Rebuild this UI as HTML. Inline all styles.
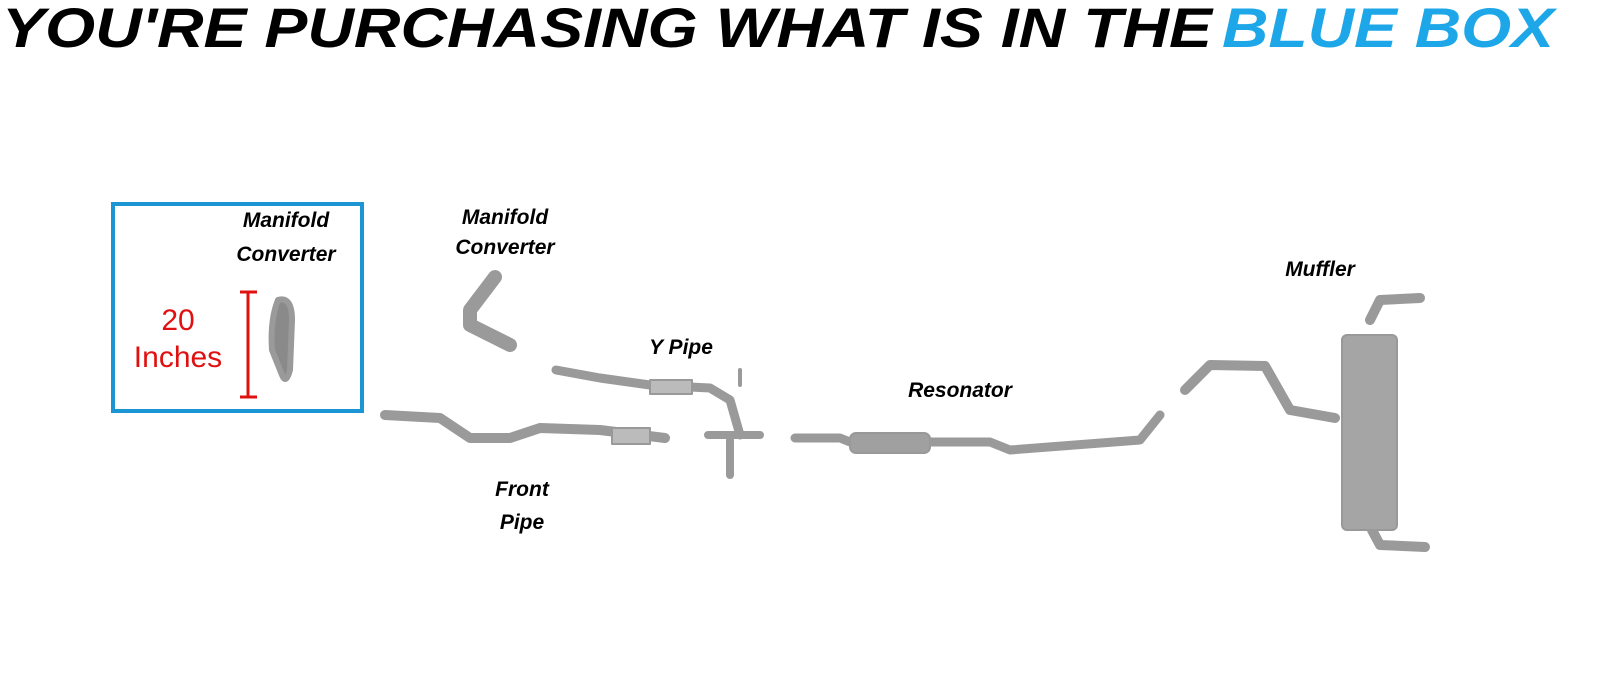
<!DOCTYPE html>
<html><head><meta charset="utf-8"><style>
html,body{margin:0;padding:0;background:#fff;width:1600px;height:685px;overflow:hidden}
svg{display:block}
</style></head><body>
<svg width="1600" height="685" viewBox="0 0 1600 685" xmlns="http://www.w3.org/2000/svg">
<text x="2" y="47" font-family="Liberation Sans, sans-serif" font-weight="bold" font-style="italic" font-size="56" fill="#000" textLength="1210" lengthAdjust="spacingAndGlyphs">YOU'RE PURCHASING WHAT IS IN THE</text>
<text x="1222" y="47" font-family="Liberation Sans, sans-serif" font-weight="bold" font-style="italic" font-size="56" fill="#1ea7e8" textLength="332" lengthAdjust="spacingAndGlyphs">BLUE BOX</text>

<rect x="113" y="204" width="249" height="207" fill="none" stroke="#1b95d3" stroke-width="4"/>
<g font-family="Liberation Sans, sans-serif" font-weight="bold" font-style="italic" font-size="21" fill="#000" text-anchor="middle">
<text x="286" y="227">Manifold</text><text x="286" y="261">Converter</text>
<text x="505" y="224">Manifold</text><text x="505" y="254">Converter</text>
<text x="681" y="354">Y Pipe</text>
<text x="960" y="397">Resonator</text>
<text x="1320" y="276">Muffler</text>
<text x="522" y="496">Front</text><text x="522" y="529">Pipe</text>
</g>
<g font-family="Liberation Sans, sans-serif" font-size="30" fill="#e01010" text-anchor="middle">
<text x="178" y="330">20</text><text x="178" y="367">Inches</text>
</g>
<g stroke="#e01010" stroke-width="3"><line x1="248" y1="292" x2="248" y2="397"/><line x1="240" y1="292" x2="257" y2="292"/><line x1="240" y1="397" x2="257" y2="397"/></g>

<g fill="none" stroke="#9a9a9a" stroke-linecap="round" stroke-linejoin="round">
<!-- box converter -->
<path d="M278 300 Q292 296 292 320 L290 370 Q286 385 282 375 L272 350 Q270 320 278 300Z" fill="#8a8a8a" stroke-width="6"/>
<!-- manifold converter 2 -->
<path d="M495 277 L470 310 L470 325 L510 345" stroke-width="14"/>
<!-- Y pipe -->
<path d="M556 370 L600 378 L650 385 L710 388 L730 400 L740 435" stroke-width="9"/>
<rect x="650" y="380" width="42" height="14" fill="#bbb" stroke="#999" stroke-width="2"/>
<path d="M740 385 L740 370" stroke-width="4"/>
<path d="M708 435 L760 435 M730 440 L730 475" stroke-width="8"/>
<!-- front pipe -->
<path d="M385 415 L440 418 L470 438 L510 438 L540 428 L600 430 L665 438" stroke-width="10"/>
<rect x="612" y="428" width="38" height="16" fill="#bbb" stroke="#999" stroke-width="2"/>
<!-- resonator -->
<path d="M795 438 L840 438 L850 442 L990 442 L1010 450 L1140 440 L1160 415" stroke-width="9"/>
<rect x="850" y="433" width="80" height="20" rx="6" fill="#a0a0a0" stroke="#999" stroke-width="2"/>
<!-- muffler pipe -->
<path d="M1185 390 L1210 365 L1265 366 L1290 410 L1335 418" stroke-width="10"/>
<path d="M1370 320 L1380 300 L1420 298 M1372 530 L1380 545 L1425 547" stroke-width="10"/>
<rect x="1342" y="335" width="55" height="195" rx="5" fill="#a5a5a5" stroke="#999" stroke-width="2"/>
</g>
</svg>
</body></html>
